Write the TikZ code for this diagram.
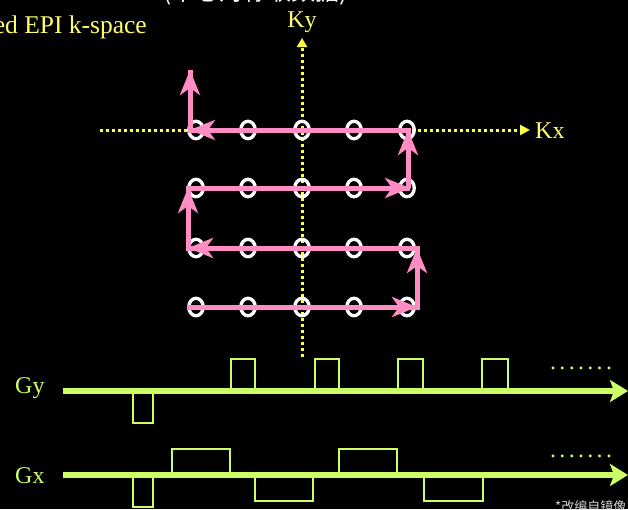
\documentclass[tikz,border=0pt]{standalone}
\usepackage{fontspec}
\setmainfont{Liberation Serif}
\newfontfamily\cjkf{Noto Sans CJK SC}
\usetikzlibrary{arrows.meta,shapes.geometric}
\definecolor{kyel}{RGB}{255,255,110}
\definecolor{dyel}{RGB}{255,255,70}
\definecolor{gcol}{RGB}{204,255,102}
\definecolor{pinkt}{RGB}{255,140,195}
\definecolor{notegray}{RGB}{210,210,210}
\newcommand{\gdots}{.\kern3.3pt.\kern3.3pt.\kern3.3pt.\kern3.3pt.\kern3.3pt.\kern3.3pt.}
\begin{document}
\begin{tikzpicture}[x=1pt,y=-1pt,
  lbl/.style={font=\fontsize{24}{28}\selectfont},
  axdot/.style={dyel,line width=3pt,dash pattern=on 3pt off 3pt},
  kpt/.style={draw=white,line width=3.3pt,ellipse,minimum width=14.5pt,minimum height=17.5pt,inner sep=0pt},
  trajline/.style={pinkt,line width=5pt,line join=miter},
  traj/.style={pinkt,line width=5pt,-{Stealth[length=25pt,width=20pt,inset=7pt]}},
  gaxis/.style={gcol,line width=5.5pt,-{Stealth[length=18pt,width=22pt,inset=4pt]}},
  pulse/.style={gcol,line width=2.6pt,line join=miter},
]
\fill[black] (0,0) rectangle (628,509);
\useasboundingbox (0,0) rectangle (628,509);

% titles
\node[font=\fontsize{25.5}{30}\selectfont,text=kyel,anchor=base east,inner sep=0pt] (title) at (147,33) {Blipped EPI k-space};
\node[font=\cjkf\fontsize{24}{28}\selectfont,text=white,anchor=base west,inner sep=0pt] (toptext) at (163,0.5) {(中心对称取数据)};

% k-space axes
\coordinate (kyb) at (302,357);
\coordinate (kyt) at (302,38);
\coordinate (kxl) at (100,130);
\coordinate (kxr) at (530,130);
\draw[axdot,-{Triangle[length=9pt,width=10pt]}] (kyb) -- (kyt);
\draw[axdot,-{Triangle[length=10pt,width=10pt]}] (kxl) -- (kxr);
\node[lbl,text=kyel,anchor=base,inner sep=0pt] (ky) at (302,27) {Ky};
\node[lbl,text=kyel,anchor=base west,inner sep=0pt] (kx) at (535,138) {Kx};

% k-space sample points
\foreach \r/\yy in {1/130,2/188,3/248,4/307}{
  \foreach \c/\xx in {1/196,2/248,3/302,4/354,5/407}{
    \node[kpt] (c\r\c) at (\xx,\yy) {};
  }
}

% trajectory
\coordinate (p0) at (187,307);
\coordinate (p1) at (417,307);
\coordinate (p2) at (417,248);
\coordinate (p3) at (188,248);
\coordinate (p4) at (188,188);
\coordinate (p5) at (410,188);
\coordinate (p5b) at (408,188);
\coordinate (p6) at (408,130);
\coordinate (p7) at (190,130);
\coordinate (p8) at (190,70);
\draw[trajline] (p0) -- (p1) -- (p2) -- (p3) -- (p4) -- (p5) -- (p5b) -- (p6) -- (p7) -- (p8);
\draw[traj] (p0) -- (p1);
\draw[traj] (p1) -- (p2);
\draw[traj] (p2) -- (p3);
\draw[traj] (p3) -- (p4);
\draw[traj] (p4) -- (p5);
\draw[traj] (p5b) -- (p6);
\draw[traj] (p6) -- (p7);
\draw[traj] (p7) -- (p8);

% gradient waveforms
\node[lbl,text=gcol,anchor=base west,inner sep=0pt] (gy) at (15,393) {Gy};
\node[lbl,text=gcol,anchor=base west,inner sep=0pt] (gx) at (15,483) {Gx};
\coordinate (gys) at (63,391);
\coordinate (gye) at (628,391);
\coordinate (gxs) at (63,475);
\coordinate (gxe) at (628,475);

% Gy pulses
\draw[pulse] (133,391) -- (133,423) -- (153,423) -- (153,391);
\foreach \a/\b in {231/255,315/339,398/423,482/508}{
  \draw[pulse] (\a,391) -- (\a,359) -- (\b,359) -- (\b,391);
}
% Gx pulses
\draw[pulse] (133,475) -- (133,507) -- (153,507) -- (153,475);
\draw[pulse] (172,475) -- (172,449) -- (230,449) -- (230,475);
\draw[pulse] (255,475) -- (255,501) -- (313,501) -- (313,475);
\draw[pulse] (339,475) -- (339,449) -- (397,449) -- (397,475);
\draw[pulse] (424,475) -- (424,501) -- (483,501) -- (483,475);

\draw[gaxis] (gys) -- (gye);
\draw[gaxis] (gxs) -- (gxe);

\node[lbl,text=gcol,anchor=base west,inner sep=0pt] (dy) at (550,369) {\gdots};
\node[lbl,text=gcol,anchor=base west,inner sep=0pt] (dx) at (550,457) {\gdots};

% note
\node[font=\cjkf\fontsize{13}{15}\selectfont,text=notegray,anchor=north west,inner sep=0pt] (note) at (555,500) {*改编自镜像};
\end{tikzpicture}
\end{document}
